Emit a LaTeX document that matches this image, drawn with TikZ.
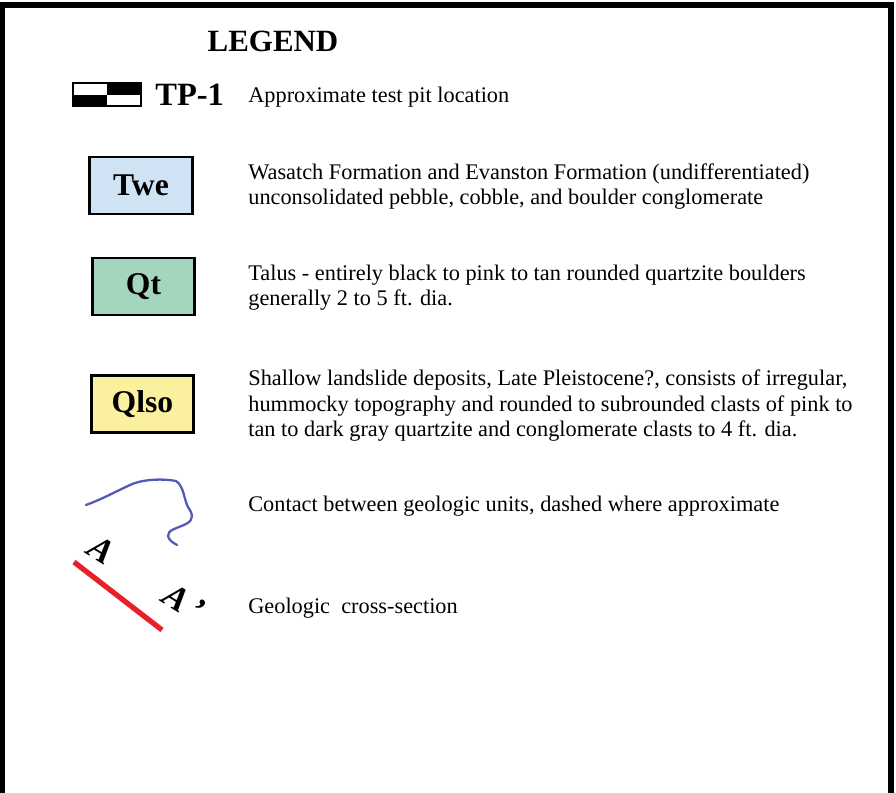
\documentclass[tikz,border=0pt]{standalone}
\usepackage{fontspec}
\setmainfont{Liberation Serif}
\definecolor{twefill}{RGB}{208,227,244}
\definecolor{qtfill}{RGB}{164,214,190}
\definecolor{qlsofill}{RGB}{251,240,158}
\definecolor{contact}{RGB}{84,88,184}
\definecolor{xsect}{RGB}{232,32,40}
\tikzset{
  unit/.style  = {draw, line width=1.6pt, minimum width=2.05cm, minimum height=1.14cm,
                  inner sep=0pt, font=\fontsize{18}{20}\selectfont\bfseries},
  desc/.style  = {anchor=base west, align=left, inner sep=0pt,
                  font=\fontsize{12.7}{14.7}\selectfont},
  ends/.style  = {font=\fontsize{20}{22}\selectfont\bfseries\itshape, inner sep=0pt},
}

\begin{document}
\begin{tikzpicture}[x=0.02cm, y=-0.02cm]

  \useasboundingbox (0,0) rectangle (896,793);

  % ===== frame ==========================================================
  \draw[line width=3pt] (2,820) -- (2,5) -- (891,5) -- (891,820);

  % ===== title ==========================================================
  \node[anchor=base, inner sep=0pt, font=\fontsize{17.6}{19}\selectfont\bfseries]
       (title) at (273,52) {LEGEND};

  % ===== test pit =======================================================
  \fill (107,83) rectangle (141,95);
  \fill (73,95) rectangle (107,106);
  \draw[line width=1.4pt] (73,83) rectangle (141,106);
  \node[anchor=base west, inner sep=0pt, font=\fontsize{18.5}{20}\selectfont\bfseries]
       (tp) at (155,106) {TP-1};
  \node[desc] (tpd) at (248,103) {Approximate test pit location};

  % ===== units ==========================================================
  \node[unit, fill=twefill]  (twe)  at (141,185.5) {Twe};
  \node[desc] (twed) at (248,205) {Wasatch Formation and Evanston Formation (undifferentiated)\\
                                   unconsolidated pebble, cobble, and boulder conglomerate};

  \node[unit, fill=qtfill]   (qt)   at (143.5,286.5) {Qt};
  \node[desc] (qtd) at (248,306) {Talus - entirely black to pink to tan rounded quartzite boulders\\
                                  generally 2 to 5 ft. dia.};

  \node[unit, fill=qlsofill] (qlso) at (142.5,404) {Qlso};
  \node[desc] (qlsod) at (248,437) {Shallow landslide deposits, Late Pleistocene?, consists of irregular,\\
                                    hummocky topography and rounded to subrounded clasts of pink to\\
                                    tan to dark gray quartzite and conglomerate clasts to 4 ft. dia.};

  % ===== contact ========================================================
  \draw[contact, line width=1.3pt, line cap=round]
    (86,505) .. controls (100,500) and (115,492) .. (130,485)
             .. controls (140,480) and (160,478) .. (176,481)
             .. controls (184,486) and (184,500) .. (188,507)
             .. controls (193,514) and (194,520) .. (186,524)
             .. controls (178,528) and (167,530) .. (168,536)
             .. controls (169,541) and (174,543) .. (177,545);
  \node[desc] (cond) at (248,512) {Contact between geologic units, dashed where approximate};

  % ===== cross-section ==================================================
  \node[ends, rotate=-32] (a)  at (102,550) {A};
  \node[ends, rotate=-32] (ap) at (184,602) {A\,'};
  \coordinate (sa) at (74,562);
  \coordinate (sb) at (162,630);
  \draw[xsect, line width=3pt] (sa) -- (sb);
  \node[desc] (xsd) at (248,613) {Geologic\ \ cross-section};

\end{tikzpicture}
\end{document}
